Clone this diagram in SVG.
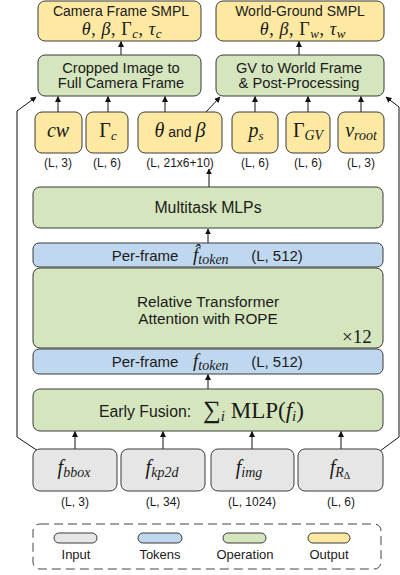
<svg xmlns="http://www.w3.org/2000/svg" width="400" height="575" viewBox="0 0 400 575">
<defs>
<marker id="ah" viewBox="0 0 10 10" refX="9" refY="5" markerWidth="6" markerHeight="6" orient="auto" markerUnits="userSpaceOnUse">
<path d="M0,0 L10,5 L0,10 z" fill="#111"/>
</marker>
<style>
.box{stroke:#3a3a3a;stroke-width:1}
.y{fill:#fde9a2}
.g{fill:#d5e6be}
.b{fill:#bfd8ef}
.i{fill:#e6e6e6}
.t{font-family:"Liberation Sans",Arial,sans-serif;fill:#1a1a1a;text-anchor:middle}
.m{font-family:"Liberation Serif","Times New Roman",serif;fill:#1a1a1a;font-style:italic;text-anchor:middle}
.ms{font-family:"Liberation Serif","Times New Roman",serif;fill:#1a1a1a;font-style:italic;text-anchor:start}
.up{font-family:"Liberation Serif","Times New Roman",serif;fill:#1a1a1a;font-style:normal;text-anchor:start}
.it{font-style:italic}
.mr{font-style:normal}
.s{font-size:12px}
.c{stroke:#111;stroke-width:1;fill:none;marker-end:url(#ah)}
</style>
</defs>

<g id="connectors">
<line class="c" x1="121" y1="55" x2="121" y2="41.5"/>
<line class="c" x1="299" y1="55" x2="299" y2="41.5"/>
<line class="c" x1="58" y1="112" x2="58" y2="96.5"/>
<line class="c" x1="108" y1="112" x2="108" y2="96.5"/>
<line class="c" x1="165" y1="112" x2="165" y2="96.5"/>
<line class="c" x1="255" y1="112" x2="255" y2="96.5"/>
<line class="c" x1="308" y1="112" x2="308" y2="96.5"/>
<line class="c" x1="361" y1="112" x2="361" y2="96.5"/>
<line class="c" x1="206" y1="112" x2="220" y2="97"/>
<line class="c" x1="209" y1="187" x2="209" y2="169"/>
<line class="c" x1="208" y1="243" x2="208" y2="229"/>
<line class="c" x1="208" y1="389" x2="208" y2="374.5"/>
<line class="c" x1="75" y1="449" x2="75" y2="431.5"/>
<line class="c" x1="163" y1="449" x2="163" y2="431.5"/>
<line class="c" x1="252" y1="449" x2="252" y2="431.5"/>
<line class="c" x1="341" y1="449" x2="341" y2="431.5"/>
<path class="c" d="M38,451 L17,437 L17,111 L36,97"/>
<path class="c" d="M380,451 L399,437 L399,107 L386,97"/>
</g>

<g id="out_camera">
<rect class="box y" x="38" y="1" width="163" height="40" rx="7"/>
<text class="t" x="121" y="16" font-size="14">Camera Frame SMPL</text>
<text class="m" x="122" y="35" font-size="18" letter-spacing="0.6">θ<tspan class="mr">, </tspan>β<tspan class="mr">, Γ</tspan><tspan font-size="13" dy="3">c</tspan><tspan class="mr" dy="-3">, </tspan>τ<tspan font-size="13" dy="3">c</tspan></text>
</g>
<g id="out_world">
<rect class="box y" x="216" y="1" width="168" height="40" rx="7"/>
<text class="t" x="300" y="16" font-size="14">World-Ground SMPL</text>
<text class="m" x="303" y="35" font-size="18" letter-spacing="0.6">θ<tspan class="mr">, </tspan>β<tspan class="mr">, Γ</tspan><tspan font-size="13" dy="3">w</tspan><tspan class="mr" dy="-3">, </tspan>τ<tspan font-size="13" dy="3">w</tspan></text>
</g>
<g id="op_crop">
<rect class="box g" x="38" y="55" width="163" height="41" rx="7"/>
<text class="t" x="121" y="73" font-size="14.7">Cropped Image to</text>
<text class="t" x="121" y="88" font-size="14.7">Full Camera Frame</text>
</g>
<g id="op_gv">
<rect class="box g" x="216" y="55" width="168" height="41" rx="7"/>
<text class="t" x="299" y="73" font-size="14.7">GV to World Frame</text>
<text class="t" x="299" y="88" font-size="14.7">&amp; Post-Processing</text>
</g>

<g id="out_cw">
<rect class="box y" x="35" y="112" width="47" height="41" rx="7"/>
<text class="m" x="58" y="137" font-size="20">cw</text>
<text class="t s" x="58" y="167">(L, 3)</text>
</g>
<g id="out_gc">
<rect class="box y" x="86" y="112" width="42" height="41" rx="7"/>
<text class="m" x="108" y="137" font-size="20"><tspan class="mr">Γ</tspan><tspan font-size="13" dy="3">c</tspan></text>
<text class="t s" x="107" y="167">(L, 6)</text>
</g>
<g id="out_theta">
<rect class="box y" x="138" y="112" width="84" height="41" rx="7"/>
<text class="m" x="180" y="137" font-size="20">θ<tspan font-family="Liberation Sans, Arial, sans-serif" class="mr" font-size="14"> and </tspan>β</text>
<text class="t s" x="180" y="167">(L, 21x6+10)</text>
</g>
<g id="out_ps">
<rect class="box y" x="232" y="112" width="46" height="41" rx="7"/>
<text class="m" x="256" y="137" font-size="20">p<tspan font-size="13" dy="3">s</tspan></text>
<text class="t s" x="255" y="167">(L, 6)</text>
</g>
<g id="out_ggv">
<rect class="box y" x="286" y="112" width="44" height="41" rx="7"/>
<text class="m" x="308" y="137" font-size="20"><tspan class="mr">Γ</tspan><tspan font-size="14" dy="3">GV</tspan></text>
<text class="t s" x="308" y="167">(L, 6)</text>
</g>
<g id="out_vroot">
<rect class="box y" x="338" y="112" width="46" height="41" rx="7"/>
<text class="m" x="361" y="137" font-size="20">v<tspan font-size="14" dy="3">root</tspan></text>
<text class="t s" x="361" y="167">(L, 3)</text>
</g>

<g id="op_mlp">
<rect class="box g" x="33" y="187" width="350" height="41" rx="7"/>
<text class="t" x="208" y="213" font-size="15.8">Multitask MLPs</text>
</g>
<g id="tok_hat">
<rect class="box b" x="33" y="243" width="350" height="24" rx="6"/>
<text class="t" x="145" y="261" font-size="15">Per-frame</text>
<text class="ms" x="193" y="261" font-size="19">f&#x302;<tspan font-size="14" dy="3">token</tspan></text>
<text class="t" x="277" y="261" font-size="15">(L, 512)</text>
</g>
<g id="op_transformer">
<rect class="box g" x="33" y="268" width="350" height="80" rx="7"/>
<text class="t" x="208" y="307" font-size="15.3">Relative Transformer</text>
<text class="t" x="208" y="324" font-size="15.3">Attention with ROPE</text>
<text class="up" x="342" y="343" font-size="19">×12</text>
</g>
<g id="tok">
<rect class="box b" x="33" y="349" width="350" height="25" rx="6"/>
<text class="t" x="145" y="367" font-size="15">Per-frame</text>
<text class="ms" x="193" y="367" font-size="19">f<tspan font-size="14" dy="3">token</tspan></text>
<text class="t" x="277" y="367" font-size="15">(L, 512)</text>
</g>
<g id="op_fusion">
<rect class="box g" x="33" y="389" width="350" height="42" rx="7"/>
<text class="t" x="145" y="417" font-size="15.8">Early Fusion:</text>
<text class="up" x="203" y="418" font-size="25">∑<tspan class="it" font-size="15" dy="3">i</tspan><tspan font-size="23" dy="-3"> MLP(</tspan><tspan class="it" font-size="23">f</tspan><tspan class="it" font-size="15" dy="3">i</tspan><tspan font-size="23" dy="-3">)</tspan></text>
</g>

<g id="in_bbox">
<rect class="box i" x="33" y="449" width="84" height="42" rx="7"/>
<text class="m" x="74" y="474" font-size="20">f<tspan font-size="14" dy="3">bbox</tspan></text>
<text class="t s" x="75" y="506">(L, 3)</text>
</g>
<g id="in_kp2d">
<rect class="box i" x="121" y="449" width="84" height="42" rx="7"/>
<text class="m" x="162" y="474" font-size="20">f<tspan font-size="14" dy="3">kp2d</tspan></text>
<text class="t s" x="163" y="506">(L, 34)</text>
</g>
<g id="in_img">
<rect class="box i" x="211" y="449" width="83" height="42" rx="7"/>
<text class="m" x="249" y="474" font-size="20">f<tspan font-size="14" dy="3">img</tspan></text>
<text class="t s" x="252" y="506">(L, 1024)</text>
</g>
<g id="in_r">
<rect class="box i" x="298" y="449" width="85" height="42" rx="7"/>
<text class="m" x="340" y="474" font-size="20">f<tspan font-size="14" dy="3">R</tspan><tspan class="mr" font-size="10" dy="2">Δ</tspan></text>
<text class="t s" x="341" y="506">(L, 6)</text>
</g>

<g id="legend">
<rect x="33" y="524" width="348" height="45" rx="7" fill="none" stroke="#444" stroke-width="1" stroke-dasharray="9,5"/>
<rect class="box i" x="54" y="533" width="43" height="10" rx="5"/>
<rect class="box b" x="138" y="533" width="44" height="10" rx="5"/>
<rect class="box g" x="223" y="533" width="43" height="10" rx="5"/>
<rect class="box y" x="308" y="533" width="42" height="10" rx="5"/>
<text class="t" x="76" y="559" font-size="13">Input</text>
<text class="t" x="160" y="559" font-size="13">Tokens</text>
<text class="t" x="245" y="559" font-size="13">Operation</text>
<text class="t" x="329" y="559" font-size="13">Output</text>
</g>
</svg>
